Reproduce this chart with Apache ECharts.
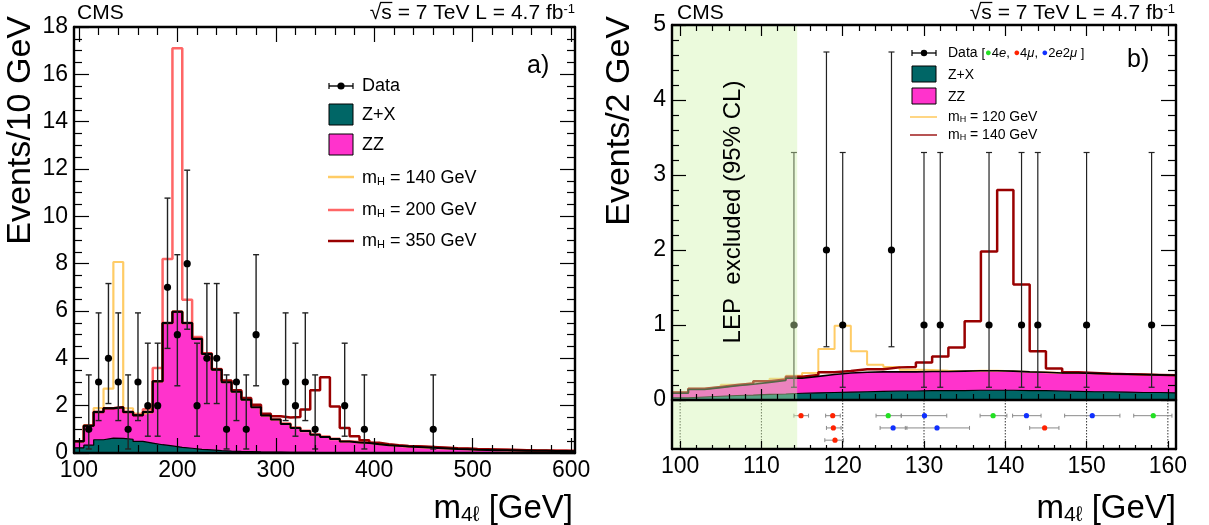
<!DOCTYPE html>
<html>
<head>
<meta charset="utf-8">
<script src="https://cdn.jsdelivr.net/npm/echarts@6.0.0/dist/echarts.min.js"></script>
<style>
html,body{margin:0;padding:0;background:#ffffff;}
#chart{width:1209px;height:525px;}
</style>
</head>
<body>
<div id="chart"></div>
<script>
// ================= Panel a) : 10 GeV bins =================
const edgesL = [95,105,115,125,135,145,155,165,175,185,195,205,215,225,235,245,255,265,275,285,295,305,315,325,335,345,355,365,375,385,395,405,415,425,435,445,455,465,475,485,495,505,515,525,535,545,555,565,575,585,595];
const upperL = 605;
const zxL = [0.22,0.33,0.56,0.63,0.62,0.58,0.49,0.42,0.35,0.30,0.24,0.20,0.15,0.13,0.10,0.08,0.065,0.055,0.045,0.04,0.035,0.03,0.028,0.025,0.022,0.02,0.018,0.016,0.015,0.014,0.013,0.012,0.011,0.01,0.01,0.01,0.01,0.01,0.01,0.01,0.01,0.01,0.01,0.01,0.01,0.01,0.01,0.01,0.01,0.01,0.01];
const zzL = [0.28,0.82,1.17,1.26,1.31,1.15,1.11,1.31,2.68,5.19,5.73,5.29,4.67,4.05,3.42,2.91,2.52,2.20,1.89,1.54,1.38,1.20,1.03,0.90,0.75,0.66,0.57,0.47,0.43,0.41,0.36,0.32,0.29,0.26,0.24,0.22,0.20,0.18,0.16,0.15,0.13,0.12,0.11,0.105,0.10,0.09,0.085,0.08,0.075,0.07,0.06];
const sig140L = [0,0.03,0.17,0.83,6.14,0.16,0.06,0,0,0,0,0,0,0,0,0,0,0,0,0,0,0,0,0,0,0,0,0,0,0,0,0,0,0,0,0,0,0,0,0,0,0,0,0,0,0,0,0,0,0,0];
const sig200L = [0,0,0,0,0,0,0.03,0.12,0.56,2.71,11.13,0.99,0.08,0.04,0.03,0.02,0.015,0.015,0.015,0.015,0.015,0.015,0.015,0.015,0.015,0.015,0.015,0.015,0.015,0.015,0.02,0.02,0.02,0.02,0.02,0.02,0.02,0.02,0.02,0.02,0.02,0.02,0.02,0.02,0.02,0.02,0.01,0.01,0.01,0.01,0.01];
const sig350L = [0,0,0,0,0,0,0,0,0,0,0,0,0.01,0.01,0.02,0.07,0.07,0.07,0.10,0.08,0.14,0.27,0.46,0.91,1.88,2.52,1.38,0.57,0.26,0.11,0.06,0.04,0.03,0.03,0.03,0.03,0.03,0.03,0.03,0.03,0.03,0.03,0.03,0.025,0.02,0.02,0.015,0.015,0.01,0.01,0.01];
const dataXL = [110,120,130,140,150,160,170,180,190,200,210,220,230,240,250,260,270,280,310,320,330,340,370,390,460];
const dataNL = [1,3,4,3,1,3,2,2,7,5,8,2,4,4,1,3,1,5,3,2,3,1,2,1,1];
const dataLoL = [0.17,1.37,2.09,1.37,0.17,1.37,0.71,0.71,4.42,2.84,5.23,0.71,2.09,2.09,0.17,1.37,0.17,2.84,1.37,0.71,1.37,0.17,0.71,0.17,0.17];
const dataHiL = [3.30,5.92,7.16,5.92,3.30,5.92,4.64,4.64,10.77,8.38,11.95,4.64,7.16,7.16,3.30,5.92,3.30,8.38,5.92,4.64,5.92,3.30,4.64,3.30,3.30];
const ticksXL = [100,200,300,400,500,600];
const minorXL = [120,140,160,180,220,240,260,280,320,340,360,380,420,440,460,480,520,540,560,580];

// ================= Panel b) : 2 GeV bins =================
const edgesR = [99,101,103,105,107,109,111,113,115,117,119,121,123,125,127,129,131,133,135,137,139,141,143,145,147,149,151,153,155,157,159];
const upperR = 161;
const zxR = [0.03,0.04,0.05,0.06,0.065,0.075,0.08,0.09,0.095,0.10,0.105,0.11,0.115,0.12,0.12,0.125,0.125,0.125,0.13,0.13,0.13,0.125,0.125,0.12,0.115,0.11,0.11,0.105,0.10,0.10,0.095];
const zzR = [0.06,0.10,0.115,0.13,0.145,0.16,0.18,0.20,0.22,0.24,0.255,0.26,0.26,0.255,0.255,0.255,0.255,0.26,0.26,0.26,0.255,0.25,0.245,0.24,0.245,0.245,0.24,0.24,0.24,0.235,0.235];
const sig120R = [0.01,0.01,0.01,0.015,0.015,0.02,0.025,0.035,0.045,0.34,0.63,0.28,0.095,0.065,0.03,0.02,0.01,0,0,0,0,0,0,0,0,0,0,0,0,0,0];
const sig140R = [0.01,0.01,0.01,0.01,0.01,0.015,0.015,0.02,0.02,0.03,0.027,0.04,0.035,0.06,0.065,0.12,0.2,0.315,0.66,1.59,2.415,1.165,0.28,0.06,0.01,0.005,0,0,0,0,0];
const dataXR = [114,118,120,126,130,132,138,142,144,150,158];
const dataNR = [1,2,1,2,1,1,1,1,1,1,1];
const dataLoR = [0.17,0.71,0.17,0.71,0.17,0.17,0.17,0.17,0.17,0.17,0.17];
const dataHiR = [3.30,4.64,3.30,4.64,3.30,3.30,3.30,3.30,3.30,3.30,3.30];
// individual events (mass, mass error range, display row, channel)
const evMass = [114.87,118.77,125.6,130.06,138.5,142.6,150.7,158.2,118.85,126.2,131.6,144.84,119.05];
const evLo   = [114.0,117.9,124.1,127.2,136.9,140.9,147.3,155.8,118.0,124.6,127.7,143.0,117.8];
const evHi   = [115.8,119.7,127.2,132.8,140.2,144.4,154.1,160.5,119.8,127.9,135.6,146.6,120.1];
const evRow  = [1,1,1,1,1,1,1,1,2,2,2,2,3];
const evChan = ['4mu','4mu','4e','2e2mu','4e','2e2mu','2e2mu','4e','4mu','2e2mu','2e2mu','4mu','4mu'];
const lepLimit = [99, 114.4];
const ticksXR = [100,110,120,130,140,150,160];
const minorXR = [102,104,106,108,112,114,116,118,122,124,126,128,132,134,136,138,142,144,146,148,152,154,156,158];

// ================= styling =================
const FONT = "'Liberation Sans', Arimo, Helvetica, Arial, sans-serif";
const PINK = '#ff33cc', TEAL = '#006666';
const chanColor = {'4e':'#22e022', '4mu':'#ff2200', '2e2mu':'#1030ff'};
const chanIndex = {'4e':0, '4mu':1, '2e2mu':2};
const chanColors = ['#22e022','#ff2200','#1030ff'];

function hist(edges, upper, vals) {
  const d = edges.map((e, i) => [e, vals[i]]);
  d.push([upper, vals[vals.length - 1]]);
  return d;
}
function add(a, b) { return a.map((v, i) => v + b[i]); }

const totL = add(zzL, zxL);
const totR = add(zzR, zxR);

function stepSeries(xi, yi, data, color, width, fill, z) {
  const s = {type:'line', step:'end', xAxisIndex:xi, yAxisIndex:yi, data:data, symbol:'none', showSymbol:false,
    silent:true, animation:false, z: z || 2, clip:true,
    lineStyle: fill ? {width:0, opacity:0} : {color:color, width:width}};
  if (fill) s.areaStyle = {color: fill, opacity: 1};
  return s;
}

function dataRender(capW, lw, r) {
  return function (params, api) {
    const x = api.value(0), n = api.value(1), lo = api.value(2), hi = api.value(3);
    const c = api.coord([x, n]), cl = api.coord([x, lo]), ch = api.coord([x, hi]);
    const st = {stroke:'#222', lineWidth:lw};
    return {type:'group', children:[
      {type:'line', shape:{x1:c[0], y1:cl[1], x2:c[0], y2:ch[1]}, style:st},
      {type:'line', shape:{x1:c[0]-capW, y1:ch[1], x2:c[0]+capW, y2:ch[1]}, style:st},
      {type:'line', shape:{x1:c[0]-capW, y1:cl[1], x2:c[0]+capW, y2:cl[1]}, style:st},
      {type:'circle', shape:{cx:c[0], cy:c[1], r:r}, style:{fill:'#000'}}
    ]};
  };
}

function evRender(params, api) {
  const m = api.value(0), lo = api.value(1), hi = api.value(2), row = api.value(3), ci = api.value(4);
  const c = api.coord([m, row]), a = api.coord([lo, row]), b = api.coord([hi, row]);
  const st = {stroke:'#8a8a8a', lineWidth:1};
  return {type:'group', children:[
    {type:'line', shape:{x1:a[0], y1:c[1], x2:b[0], y2:c[1]}, style:st},
    {type:'line', shape:{x1:a[0], y1:c[1]-2, x2:a[0], y2:c[1]+2}, style:st},
    {type:'line', shape:{x1:b[0], y1:c[1]-2, x2:b[0], y2:c[1]+2}, style:st},
    {type:'circle', shape:{cx:c[0], cy:c[1], r:2.6}, style:{fill:chanColors[ci]}}
  ]};
}

function vlineRender(params, api) {
  const cs = params.coordSys;
  const p = api.coord([api.value(0), 0]);
  return {type:'line', shape:{x1:p[0], y1:cs.y, x2:p[0], y2:cs.y + cs.height},
    style:{stroke:'#333', lineWidth:1, lineDash:[1.5, 1.5]}};
}

function lepRender(params, api) {
  const cs = params.coordSys;
  const a = api.coord([api.value(0), 0]), b = api.coord([api.value(1), 0]);
  return {type:'rect', shape:{x:a[0], y:cs.y, width:b[0]-a[0], height:cs.height},
    style:{fill:'rgba(207,242,172,0.42)'}};
}

// ---------- axes ----------
function xMajor(g, pos, min, max, vals, len, labels) {
  return {type:'value', gridIndex:g, position:pos, min:min, max:max, z:10,
    axisLine:{show:true, onZero:false, lineStyle:{color:'#000', width:2.4}},
    axisTick:{show:true, inside:true, length:len, customValues:vals, lineStyle:{color:'#000', width:1.2}},
    axisLabel: labels ? {show:true, customValues:vals, color:'#000', fontSize:23, fontFamily:FONT, margin:6} : {show:false},
    splitLine:{show:false}, minorTick:{show:false}, minorSplitLine:{show:false}};
}
function xMinor(g, pos, min, max, vals, len) {
  return {type:'value', gridIndex:g, position:pos, min:min, max:max, z:10,
    axisLine:{show:false, onZero:false},
    axisTick:{show:true, inside:true, length:len, customValues:vals, lineStyle:{color:'#000', width:1.2}},
    axisLabel:{show:false}, splitLine:{show:false}};
}
function yAx(g, pos, min, max, interval, len, mlen, msplit, labels) {
  return {type:'value', gridIndex:g, position:pos, min:min, max:max, interval:interval, z:10,
    axisLine:{show:true, onZero:false, lineStyle:{color:'#000', width:2.4}},
    axisTick:{show:true, inside:true, length:len, lineStyle:{color:'#000', width:1.2}},
    minorTick:{show:true, splitNumber:msplit, length:mlen, lineStyle:{color:'#000', width:1.2}},
    axisLabel: labels ? {show:true, color:'#000', fontSize:23, fontFamily:FONT, margin:6} : {show:false},
    splitLine:{show:false}, minorSplitLine:{show:false}};
}
function yFrame(g, pos) {
  return {type:'value', gridIndex:g, position:pos, min:-0.28, max:3.72, inverse:true, z:10,
    axisLine:{show:true, onZero:false, lineStyle:{color:'#000', width:2.4}},
    axisTick:{show:false}, axisLabel:{show:false}, splitLine:{show:false}};
}

// ---------- graphic helpers ----------
function txt(x, y, text, size, o) {
  o = o || {};
  const align = o.align || 'left', va = o.va || 'middle';
  const st = {legacy:false, text:text, fill:'#000', fontSize:size, fontFamily:FONT,
    fontStyle: o.italic ? 'italic' : 'normal',
    align:align, verticalAlign:va, textAlign:align, textVerticalAlign:va};
  if (o.rich) st.rich = o.rich;
  return {type:'text', x:x, y:y, rotation:o.rot || 0, z:100, silent:true, style:st};
}
function subStyle(size) { return {fontSize:size, fontFamily:FONT, fill:'#000', verticalAlign:'bottom'}; }
function supStyle(size) { return {fontSize:size, fontFamily:FONT, fill:'#000', verticalAlign:'top'}; }
function gline(x1, y1, x2, y2, color, w) {
  return {type:'line', z:100, silent:true, shape:{x1:x1, y1:y1, x2:x2, y2:y2}, style:{stroke:color, lineWidth:w}};
}
function grect(x, y, w, h, fill) {
  return {type:'rect', z:100, silent:true, shape:{x:x, y:y, width:w, height:h}, style:{fill:fill, stroke:'#000', lineWidth:1}};
}
function gdot(x, y, r) {
  return {type:'circle', z:101, silent:true, shape:{cx:x, cy:y, r:r}, style:{fill:'#000'}};
}

// overline over "s" of sqrt(s): measured from the font itself
function sqrtOverline(rightX, midY) {
  const ctx = document.createElement('canvas').getContext('2d');
  ctx.textBaseline = 'middle';
  ctx.font = "21px 'Liberation Sans', Arimo, Arial, sans-serif";
  const wMain = ctx.measureText('\u221As = 7 TeV L = 4.7 fb').width;
  const wRad = ctx.measureText('\u221A');
  const wRs = ctx.measureText('\u221As').width;
  ctx.font = "13px 'Liberation Sans', Arimo, Arial, sans-serif";
  const wSup = ctx.measureText('-1').width;
  const x0 = rightX - wMain - wSup;
  const top = midY - (wRad.actualBoundingBoxAscent || 10) + 0.7;
  return gline(x0 + wRad.width - 1.2, top, x0 + wRs + 0.5, top, '#000', 1.3);
}

const richE = {sup: supStyle(13)};
const richMl = {sub: subStyle(11)};
const richMr = {sub: subStyle(9)};
const richX = {sub: subStyle(21)};
const richD = {
  br:{fontSize:13, fontFamily:FONT, fill:'#000'},
  g:{fontSize:11, fontFamily:FONT, fill:chanColor['4e']},
  r:{fontSize:11, fontFamily:FONT, fill:chanColor['4mu']},
  b:{fontSize:11, fontFamily:FONT, fill:chanColor['2e2mu']},
  sm:{fontSize:13, fontFamily:FONT, fill:'#000'},
  si:{fontSize:13, fontFamily:FONT, fill:'#000', fontStyle:'italic'}
};

const graphics = [
  // panel a texts
  txt(77, 13, 'CMS', 21),
  txt(575, 13, '\u221As = 7 TeV L = 4.7 fb{sup|-1}', 21, {align:'right', rich:richE}),
  sqrtOverline(575, 13),
  txt(527, 66, 'a)', 25),
  txt(21, 16, 'Events/10 GeV', 34, {align:'right', rot:Math.PI/2}),
  txt(573, 509, 'm{sub|4\u2113} [GeV]', 33, {align:'right', rich:richX}),
  // panel a legend
  gline(329, 86, 353, 86, '#000', 1.4), gline(329, 83, 329, 89, '#000', 1.2), gline(353, 83, 353, 89, '#000', 1.2), gdot(341, 86, 3.6),
  txt(362, 86, 'Data', 18),
  grect(329, 104, 24, 21, TEAL), txt(362, 115, 'Z+X', 18),
  grect(329, 134, 24, 21, PINK), txt(362, 145, 'ZZ', 18),
  gline(328, 177, 354, 177, '#ffcc66', 2.5), txt(362, 178, 'm{sub|H} = 140 GeV', 18, {rich:richMl}),
  gline(328, 210, 354, 210, '#ff6666', 2.5), txt(362, 210, 'm{sub|H} = 200 GeV', 18, {rich:richMl}),
  gline(328, 241, 354, 241, '#990000', 2.5), txt(362, 241, 'm{sub|H} = 350 GeV', 18, {rich:richMl}),
  // panel b texts
  txt(677, 13, 'CMS', 21),
  txt(1175, 13, '\u221As = 7 TeV L = 4.7 fb{sup|-1}', 21, {align:'right', rich:richE}),
  sqrtOverline(1175, 13),
  txt(1127, 60, 'b)', 25),
  txt(620, 16, 'Events/2 GeV', 34, {align:'right', rot:Math.PI/2}),
  txt(1176, 509, 'm{sub|4\u2113} [GeV]', 33, {align:'right', rich:richX}),
  txt(733, 212, 'LEP  excluded (95% CL)', 24, {align:'center', rot:Math.PI/2}),
  // panel b legend
  gline(912, 53, 936, 53, '#000', 1.3), gline(912, 50, 912, 56, '#000', 1.2), gline(936, 50, 936, 56, '#000', 1.2), gdot(924, 53, 3.2),
  txt(948, 53, 'Data {br|[}{g|\u25CF}{sm|4}{si|e}{sm|, }{r|\u25CF}{sm|4}{si|\u03BC}{sm|, }{b|\u25CF}{sm|2}{si|e}{sm|2}{si|\u03BC}{br| ]}', 14, {rich:richD}),
  grect(912, 66, 24, 16, TEAL), txt(948, 75, 'Z+X', 14),
  grect(912, 88, 24, 16, PINK), txt(948, 97, 'ZZ', 14),
  gline(910, 117, 937, 117, '#ffcc66', 1.6), txt(948, 117, 'm{sub|H} = 120 GeV', 14, {rich:richMr}),
  gline(910, 135, 937, 135, '#a52a2a', 1.6), txt(948, 135, 'm{sub|H} = 140 GeV', 14, {rich:richMr})
];

const option = {
  animation:false,
  backgroundColor:'#ffffff',
  grid:[
    {left:74, top:27, width:501, height:426, containLabel:false, outerBoundsMode:'none', show:false},
    {left:672, top:25, width:504, height:375, containLabel:false, outerBoundsMode:'none', show:false},
    {left:672, top:400, width:504, height:49, containLabel:false, outerBoundsMode:'none', show:false}
  ],
  xAxis:[
    xMajor(0, 'bottom', 95, 604, ticksXL, 15, true),
    xMinor(0, 'bottom', 95, 604, minorXL, 8),
    xMajor(0, 'top', 95, 604, ticksXL, 15, false),
    xMinor(0, 'top', 95, 604, minorXL, 8),
    xMajor(1, 'bottom', 99, 161, ticksXR, 11, false),
    xMinor(1, 'bottom', 99, 161, minorXR, 6),
    xMajor(1, 'top', 99, 161, ticksXR, 11, false),
    xMinor(1, 'top', 99, 161, minorXR, 6),
    xMajor(2, 'bottom', 99, 161, ticksXR, 8, true),
    xMinor(2, 'bottom', 99, 161, minorXR, 4)
  ],
  yAxis:[
    yAx(0, 'left', 0, 18, 2, 15, 8, 4, true),
    yAx(0, 'right', 0, 18, 2, 15, 8, 4, false),
    yAx(1, 'left', 0, 5, 1, 14, 7, 5, true),
    yAx(1, 'right', 0, 5, 1, 15, 8, 5, false),
    yFrame(2, 'left'),
    yFrame(2, 'right')
  ],
  graphic:{elements:graphics},
  series:[
    // ---- panel a
    stepSeries(0, 0, hist(edgesL, upperL, totL), null, 0, PINK, 2),
    stepSeries(0, 0, hist(edgesL, upperL, zxL), null, 0, TEAL, 2),
    stepSeries(0, 0, hist(edgesL, upperL, add(totL, sig140L)), '#ffcc66', 2.2),
    stepSeries(0, 0, hist(edgesL, upperL, add(totL, sig200L)), '#ff6666', 2.5),
    stepSeries(0, 0, hist(edgesL, upperL, add(totL, sig350L)), '#990000', 2.5),
    stepSeries(0, 0, hist(edgesL, upperL, totL), '#000', 2),
    stepSeries(0, 0, hist(edgesL, upperL, zxL), '#000', 1.2),
    {type:'custom', xAxisIndex:0, yAxisIndex:0, silent:true, z:4,
      data: dataXL.map((x, i) => [x, dataNL[i], dataLoL[i], dataHiL[i]]),
      renderItem: dataRender(3, 1.4, 3.6)},
    // ---- panel b, main
    stepSeries(4, 2, hist(edgesR, upperR, totR), null, 0, PINK, 2),
    stepSeries(4, 2, hist(edgesR, upperR, zxR), null, 0, TEAL, 2),
    stepSeries(4, 2, hist(edgesR, upperR, add(totR, sig120R)), '#ffcc66', 2),
    stepSeries(4, 2, hist(edgesR, upperR, add(totR, sig140R)), '#990000', 2.5),
    stepSeries(4, 2, hist(edgesR, upperR, totR), '#000', 1.6),
    stepSeries(4, 2, hist(edgesR, upperR, zxR), '#000', 1.2),
    {type:'custom', xAxisIndex:4, yAxisIndex:2, silent:true, z:4,
      data: dataXR.map((x, i) => [x, dataNR[i], dataLoR[i], dataHiR[i]]),
      renderItem: dataRender(3, 1.2, 3.6)},
    {type:'custom', xAxisIndex:4, yAxisIndex:2, silent:true, z:6,
      data:[lepLimit], renderItem: lepRender},
    // ---- panel b, event display
    {type:'custom', xAxisIndex:8, yAxisIndex:4, silent:true, z:2,
      data: ticksXR.map(v => [v, 0]), renderItem: vlineRender},
    {type:'custom', xAxisIndex:8, yAxisIndex:4, silent:true, z:4,
      data: evMass.map((m, i) => [m, evLo[i], evHi[i], evRow[i], chanIndex[evChan[i]]]),
      renderItem: evRender},
    {type:'custom', xAxisIndex:8, yAxisIndex:4, silent:true, z:6,
      data:[lepLimit], renderItem: lepRender}
  ]
};

const chart = echarts.init(document.getElementById('chart'), null, {renderer:'canvas'});
chart.setOption(option);
</script>
</body>
</html>
